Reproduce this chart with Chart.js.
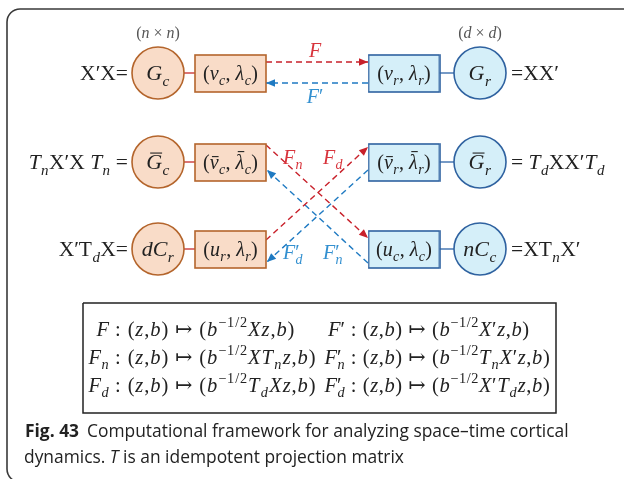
<!DOCTYPE html>
<html><head><meta charset="utf-8">
<script src="https://cdn.jsdelivr.net/npm/chart.js@4/dist/chart.umd.min.js"></script>
<style>html,body{margin:0;padding:0;background:#fff}canvas{display:block}</style>
</head><body><canvas id="c" width="624" height="479"></canvas>
<script>
// ---------- data ----------
const rowY = [73, 162, 249];
const leftCircleX = 158, leftBoxX = 230.5, rightBoxX = 404, rightCircleX = 480;
const leftCircleLabels = ['G_c', '#G_c', 'dC_r'];
const rightCircleLabels = ['G_r', '#G_r', 'nC_c'];
const leftBoxLabels = ['(v_c, λ_c)', '(#v_c, #λ_c)', '(u_r, λ_r)'];
const rightBoxLabels = ['(v_r, λ_r)', '(#v_r, #λ_r)', '(u_c, λ_c)'];
const leftEqs = ['!X′!X=', 'T_n!X′!X T_n =', '!X′!T_d!X='];
const rightEqs = ['=!X!X′', '= T_d!X!X′T_d', '=!X!T_n!X′'];
const sizeLabels = ['(n × n)', '(d × d)'];
const arrowFrom = [[266,62],[368,83],[266,145],[266,240],[368,263],[368,170]];
const arrowTo   = [[368,62],[266,83],[368,238],[368,147],[267,170],[267,262]];
const arrowKind = ['red','blue','red','red','blue','blue'];
const arrowLabels = ['F','F′','F_n','F_d','F′_n','F′_d'];
const arrowLabelAt = [[315,50],[315,96],[293,157],[333,157],[333,252],[293,252]];
const formulaLhsLeft = ['F','F_n','F_d'];
const formulaRhsLeft = [' : (z,b) ↦ (b^{−1/2}Xz,b)', ' : (z,b) ↦ (b^{−1/2}XT_nz,b)', ' : (z,b) ↦ (b^{−1/2}T_dXz,b)'];
const formulaLhsRight = ['F′','F′_n','F′_d'];
const formulaRhsRight = [' : (z,b) ↦ (b^{−1/2}X′z,b)', ' : (z,b) ↦ (b^{−1/2}T_nX′z,b)', ' : (z,b) ↦ (b^{−1/2}X′T_dz,b)'];
const formulaRowY = [329, 357, 385];
const formulaBox = [[83,303],[556,303],[556,413],[83,413],[83,303]];
const captionBold = 'Fig. 43';
const captionLine1 = 'Computational framework for analyzing space–time cortical';
const captionLine2a = 'dynamics. ', captionLine2T = 'T', captionLine2b = ' is an idempotent projection matrix';

// ---------- styles ----------
const C = {
  peachFill:'#f9dcc8', peachStroke:'#b4652c', blueFill:'#d5eff9', blueStroke:'#2f62a0',
  red:'#c8202a', blue:'#1f7ac2', redLabel:'#d8343c', blueLabel:'#3390d0',
  leftConn:'#cc3a3a', rightConn:'#3b6fae', text:'#222'
};
const BOX_W = 71, BOX_H = 37;
const SERIF = '"Liberation Serif", "DejaVu Serif", serif';

function boxImage(fill, stroke){
  const cv = document.createElement('canvas');
  cv.width = BOX_W + 2; cv.height = BOX_H + 2;
  const g = cv.getContext('2d');
  g.fillStyle = fill; g.fillRect(1,1,BOX_W,BOX_H);
  g.strokeStyle = stroke; g.lineWidth = 1.6; g.strokeRect(1,1,BOX_W,BOX_H);
  return cv;
}

// ---------- math text ----------
function isLetter(c){ return /[A-Za-zα-ωλ]/.test(c); }
function readGroup(s,i){
  if (s[i] === '{'){ const j = s.indexOf('}', i); return [s.slice(i+1,j), j+1]; }
  return [s[i], i+1];
}
function parseMath(s){
  const toks = []; let i = 0;
  while (i < s.length){
    const c = s[i];
    if (c === '_' || c === '^'){
      const [g, ni] = readGroup(s, i+1); i = ni;
      for (const ch of g) toks.push({t:ch, it:isLetter(ch), sub:c==='_', sup:c==='^'});
      continue;
    }
    if (c === '#'){ const ch = s[i+1]; toks.push({t:ch, it:isLetter(ch), bar:true}); i += 2; continue; }
    if (c === '!'){ toks.push({t:s[i+1], it:false}); i += 2; continue; }
    toks.push({t:c, it:isLetter(c)}); i++;
  }
  for (let k = 1; k < toks.length; k++){
    if (toks[k].sub && toks[k-1].t === '′' && !toks[k-1].sub) toks[k-1].stackPrime = true;
  }
  return toks;
}
function fontFor(tok, size){
  const sz = (tok.sub || tok.sup) ? size*0.7 : size;
  return (tok.it ? 'italic ' : '') + sz.toFixed(1) + 'px ' + SERIF;
}
function drawMath(ctx, s, x, y, size, align, color, track){
  track = track || 0;
  const toks = parseMath(s); let w = 0;
  for (const t of toks){
    ctx.font = fontFor(t,size);
    t.gw = ctx.measureText(t.t).width;
    t.w = t.stackPrime ? 0 : t.gw + track;
    if (t.sub) t.w += size*0.04;
    w += t.w;
  }
  let cx = align === 'center' ? x - w/2 : (align === 'right' ? x - w : x);
  const base = y + size*0.33;
  ctx.fillStyle = color; ctx.strokeStyle = color; ctx.textAlign = 'left'; ctx.textBaseline = 'alphabetic';
  for (const t of toks){
    ctx.font = fontFor(t,size);
    const dy = t.sub ? size*0.27 : (t.sup ? -size*0.42 : 0);
    ctx.fillText(t.t, cx + (t.sub ? size*0.02 : 0), base + dy);
    if (t.bar){
      const m = ctx.measureText(t.t);
      const top = base + dy - m.actualBoundingBoxAscent - size*0.1;
      ctx.lineWidth = 1.1; ctx.beginPath();
      ctx.moveTo(cx + t.w*0.25, top); ctx.lineTo(cx + t.w*1.0, top); ctx.stroke();
    }
    cx += t.w;
  }
  return w;
}

// ---------- datasets ----------
const datasets = [];
datasets.push({
  label:'circles', order:1,
  data: rowY.map(y => ({x:leftCircleX, y})).concat(rowY.map(y => ({x:rightCircleX, y}))),
  pointRadius:26, pointStyle:'circle', borderWidth:1.6,
  backgroundColor: rowY.map(()=>C.peachFill).concat(rowY.map(()=>C.blueFill)),
  borderColor: rowY.map(()=>C.peachStroke).concat(rowY.map(()=>C.blueStroke)),
  showLine:false, clip:false
});
const peachBox = boxImage(C.peachFill, C.peachStroke), blueBox = boxImage(C.blueFill, C.blueStroke);
datasets.push({
  label:'boxes', order:1,
  data: rowY.map(y => ({x:leftBoxX, y:y+0.5})).concat(rowY.map(y => ({x:rightBoxX, y:y+0.5}))),
  pointStyle: rowY.map(()=>peachBox).concat(rowY.map(()=>blueBox)),
  pointRadius:10, showLine:false, clip:false
});
rowY.forEach(y => {
  datasets.push({type:'line', order:2, data:[{x:leftCircleX+26,y},{x:leftBoxX-BOX_W/2,y}], borderColor:C.leftConn, borderWidth:1.4, pointRadius:0, clip:false});
  datasets.push({type:'line', order:2, data:[{x:rightBoxX+BOX_W/2,y},{x:rightCircleX-26,y}], borderColor:C.rightConn, borderWidth:1.4, pointRadius:0, clip:false});
});
arrowFrom.forEach((f,i) => {
  datasets.push({type:'line', order:3, data:[{x:f[0],y:f[1]},{x:arrowTo[i][0],y:arrowTo[i][1]}],
    borderColor: arrowKind[i]==='red' ? C.red : C.blue, borderWidth:1.4, borderDash:[6,4],
    pointRadius:0, clip:false});
});
datasets.push({type:'line', order:3, data: formulaBox.map(p=>({x:p[0],y:p[1]})), borderColor:'#222', borderWidth:1.5, pointRadius:0, clip:false});

// ---------- plugins ----------
const framePlugin = {
  id:'frame',
  beforeDatasetsDraw(chart){
    const {ctx, scales:{x, y}} = chart;
    const X = v => x.getPixelForValue(v), Y = v => y.getPixelForValue(v);
    ctx.save(); ctx.strokeStyle = '#3a3a3a'; ctx.lineWidth = 1.6;
    ctx.beginPath();
    ctx.moveTo(X(624), Y(9));
    ctx.arcTo(X(7), Y(9), X(7), Y(60), 13);
    ctx.arcTo(X(7), Y(482), X(40), Y(482), 13);
    ctx.stroke(); ctx.restore();
  }
};
const textPlugin = {
  id:'texts',
  afterDatasetsDraw(chart){
    const {ctx, scales:{x, y}} = chart;
    const X = v => x.getPixelForValue(v), Y = v => y.getPixelForValue(v);
    ctx.save();
    arrowTo.forEach((t,i) => {
      const f = arrowFrom[i];
      const x2 = X(t[0]), y2 = Y(t[1]), x1 = X(f[0]), y1 = Y(f[1]);
      const a = Math.atan2(y2-y1, x2-x1), L = 9, H = 3.8;
      ctx.fillStyle = arrowKind[i]==='red' ? C.red : C.blue;
      ctx.beginPath();
      ctx.moveTo(x2, y2);
      ctx.lineTo(x2 - L*Math.cos(a) + H*Math.sin(a), y2 - L*Math.sin(a) - H*Math.cos(a));
      ctx.lineTo(x2 - L*Math.cos(a) - H*Math.sin(a), y2 - L*Math.sin(a) + H*Math.cos(a));
      ctx.closePath(); ctx.fill();
    });
    rowY.forEach((ry,i) => {
      drawMath(ctx, leftCircleLabels[i], X(leftCircleX), Y(ry), 22, 'center', C.text);
      drawMath(ctx, rightCircleLabels[i], X(rightCircleX), Y(ry), 22, 'center', C.text);
      drawMath(ctx, leftBoxLabels[i], X(leftBoxX), Y(ry), 20, 'center', C.text);
      drawMath(ctx, rightBoxLabels[i], X(rightBoxX), Y(ry), 20, 'center', C.text);
      drawMath(ctx, leftEqs[i], X(128), Y(ry), 21.5, 'right', C.text);
      drawMath(ctx, rightEqs[i], X(511), Y(ry), 21.5, 'left', C.text);
    });
    drawMath(ctx, sizeLabels[0], X(leftCircleX), Y(33), 16, 'center', '#555');
    drawMath(ctx, sizeLabels[1], X(rightCircleX), Y(33), 16, 'center', '#555');
    arrowLabels.forEach((s,i) => {
      drawMath(ctx, s, X(arrowLabelAt[i][0]), Y(arrowLabelAt[i][1]), 20, 'center', arrowKind[i]==='red' ? C.redLabel : C.blueLabel);
    });
    formulaRowY.forEach((fy,i) => {
      drawMath(ctx, formulaLhsLeft[i], X(109), Y(fy), 20.5, 'right', C.text);
      drawMath(ctx, formulaRhsLeft[i], X(109), Y(fy), 20.5, 'left', C.text, 0.9);
      drawMath(ctx, formulaLhsRight[i], X(345), Y(fy), 20.5, 'right', C.text);
      drawMath(ctx, formulaRhsRight[i], X(345), Y(fy), 20.5, 'left', C.text, 0.6);
    });
    const cs = 17.4, SANS = '"Open Sans", "Noto Sans", sans-serif';
    ctx.fillStyle = '#222'; ctx.textBaseline = 'alphabetic'; ctx.textAlign = 'left';
    ctx.font = 'bold ' + cs + 'px ' + SANS;
    ctx.fillText(captionBold, X(25), Y(437));
    let cx = X(25) + ctx.measureText(captionBold).width + 8;
    ctx.font = cs + 'px ' + SANS;
    ctx.fillText(captionLine1, cx, Y(437));
    cx = X(24);
    ctx.fillText(captionLine2a, cx, Y(463)); cx += ctx.measureText(captionLine2a).width;
    ctx.font = 'italic ' + cs + 'px ' + SANS;
    ctx.fillText(captionLine2T, cx, Y(463)); cx += ctx.measureText(captionLine2T).width;
    ctx.font = cs + 'px ' + SANS;
    ctx.fillText(captionLine2b, cx, Y(463));
    ctx.restore();
  }
};

new Chart(document.getElementById('c'), {
  type:'scatter',
  data:{ datasets },
  options:{
    responsive:false, animation:false, devicePixelRatio:1, events:[],
    layout:{ padding:0, autoPadding:false },
    plugins:{ legend:{display:false}, tooltip:{enabled:false} },
    scales:{
      x:{ type:'linear', min:0, max:624, display:false },
      y:{ type:'linear', min:0, max:479, reverse:true, display:false }
    }
  },
  plugins:[framePlugin, textPlugin]
});
</script></body></html>
